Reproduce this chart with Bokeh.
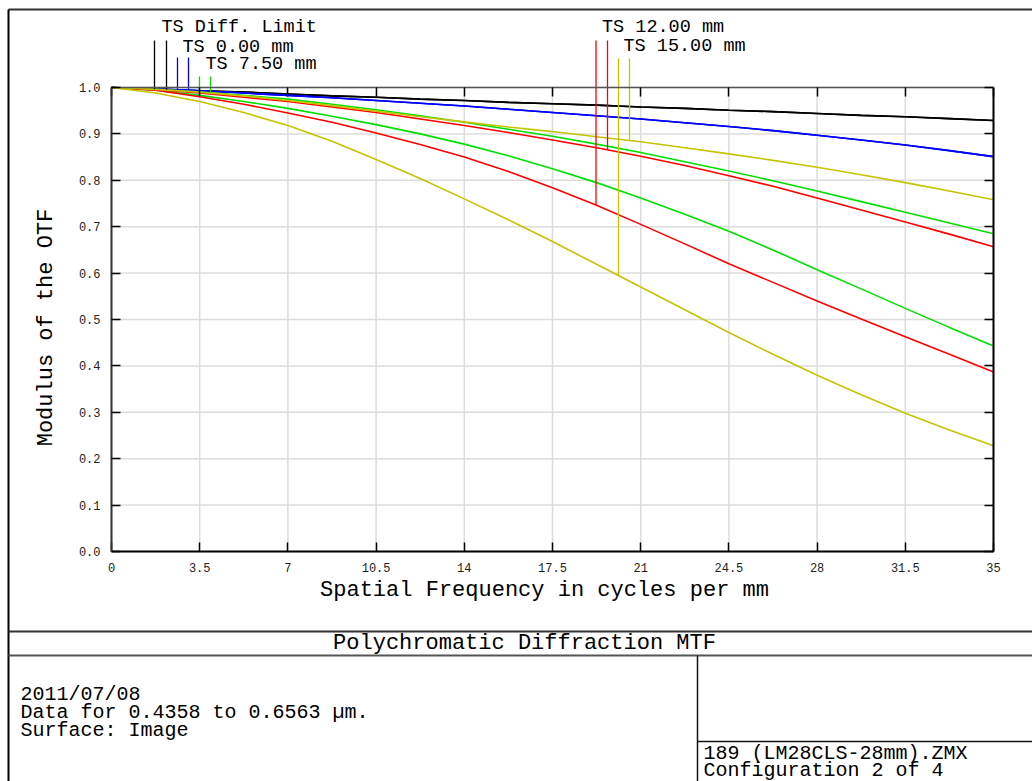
import numpy as np
from bokeh.plotting import figure
from bokeh.models import Range1d, LinearAxis, FixedTicker, Label
from bokeh.embed import file_html
from bokeh.resources import INLINE

# ---------------- data ----------------
freq = [0, 1.75, 3.5, 5.25, 7, 8.75, 10.5, 12.25, 14, 15.75, 17.5,
        19.25, 21, 22.75, 24.5, 26.25, 28, 29.75, 31.5, 33.25, 35]
diff_limit = [1.000, 0.996, 0.993, 0.990, 0.986, 0.982, 0.979, 0.975, 0.972, 0.968, 0.965,
              0.962, 0.958, 0.955, 0.951, 0.948, 0.944, 0.940, 0.937, 0.933, 0.929]
field_000_t = [1.000, 0.997, 0.993, 0.988, 0.983, 0.978, 0.972, 0.966, 0.960, 0.953, 0.946,
               0.939, 0.932, 0.924, 0.916, 0.907, 0.897, 0.887, 0.876, 0.864, 0.851]
field_000_s = [1.000, 0.997, 0.993, 0.988, 0.983, 0.978, 0.972, 0.966, 0.960, 0.953, 0.946,
               0.939, 0.932, 0.924, 0.916, 0.907, 0.897, 0.887, 0.876, 0.864, 0.851]
field_750_t = [1.000, 0.994, 0.983, 0.970, 0.955, 0.938, 0.920, 0.900, 0.878, 0.853, 0.825,
               0.795, 0.762, 0.727, 0.690, 0.650, 0.607, 0.566, 0.524, 0.483, 0.443]
field_750_s = [1.000, 0.996, 0.990, 0.983, 0.975, 0.964, 0.952, 0.939, 0.925, 0.910, 0.895,
               0.878, 0.860, 0.840, 0.820, 0.799, 0.777, 0.754, 0.731, 0.708, 0.685]
field_1200_t = [1.000, 0.994, 0.980, 0.964, 0.945, 0.925, 0.902, 0.877, 0.850, 0.819, 0.784,
                0.746, 0.705, 0.663, 0.620, 0.580, 0.540, 0.501, 0.463, 0.425, 0.387]
field_1200_s = [1.000, 0.995, 0.988, 0.979, 0.970, 0.958, 0.946, 0.932, 0.918, 0.903, 0.887,
                0.870, 0.852, 0.832, 0.810, 0.787, 0.762, 0.736, 0.710, 0.684, 0.657]
field_1500_t = [1.000, 0.988, 0.970, 0.946, 0.918, 0.884, 0.845, 0.804, 0.760, 0.715, 0.668,
                0.619, 0.570, 0.521, 0.472, 0.425, 0.380, 0.338, 0.298, 0.262, 0.228]
field_1500_s = [1.000, 0.996, 0.990, 0.982, 0.972, 0.961, 0.949, 0.937, 0.926, 0.915, 0.905,
                0.894, 0.883, 0.870, 0.857, 0.843, 0.828, 0.812, 0.795, 0.777, 0.758]

x_ticks = [0, 3.5, 7, 10.5, 14, 17.5, 21, 24.5, 28, 31.5, 35]
x_tick_labels = ["0", "3.5", "7", "10.5", "14", "17.5", "21", "24.5", "28", "31.5", "35"]
y_ticks = [0.0, 0.1, 0.2, 0.3, 0.4, 0.5, 0.6, 0.7, 0.8, 0.9, 1.0]
y_tick_labels = ["0.0", "0.1", "0.2", "0.3", "0.4", "0.5", "0.6", "0.7", "0.8", "0.9", "1.0"]

legend_labels = ["TS Diff. Limit", "TS 0.00 mm", "TS 7.50 mm", "TS 12.00 mm", "TS 15.00 mm"]
series_colors = ["#000000", "#0000ff", "#00e000", "#ff0000", "#c4c400"]
series_pairs = [(diff_limit, diff_limit), (field_000_t, field_000_s),
                (field_750_t, field_750_s), (field_1200_t, field_1200_s),
                (field_1500_t, field_1500_s)]

x_title = "Spatial Frequency in cycles per mm"
y_title = "Modulus of the OTF"
title_text = "Polychromatic Diffraction MTF"
info_left = ["2011/07/08", "Data for 0.4358 to 0.6563 \u00b5m.", "Surface: Image"]
info_right = ["189 (LM28CLS-28mm).ZMX", "Configuration 2 of 4"]

# ---------------- layout / style ----------------
FONT = "Liberation Mono"
BIG = "22px"
INFO = "20px"
W, H = 1032, 781
PLOT_L, PLOT_R, PLOT_T, PLOT_B = 111, 993, 87, 551      # pixel box of the MTF plot


def dx(px):   # canvas pixel -> data x
    return x_ticks[0] + (px - PLOT_L) * (x_ticks[-1] - x_ticks[0]) / (PLOT_R - PLOT_L)


def dy(py):   # canvas pixel -> data y
    return y_ticks[0] + (PLOT_B - py) * (y_ticks[-1] - y_ticks[0]) / (PLOT_B - PLOT_T)


# legend key layout in pixels: (x of T line, x of S line, top of lines, label x, label baseline)
legend_layout = [
    (154, 166, 40, 161, 27),
    (177, 188, 57, 182, 47),
    (199, 210, 76, 205, 64),
    (595.5, 607, 40, 601.5, 27),
    (618, 629, 58, 623, 46),
]

p = figure(width=W, height=H, min_border=0,
           x_range=Range1d(dx(0), dx(W)), y_range=Range1d(dy(H), dy(0)),
           x_axis_type=None, y_axis_type=None,
           output_backend="svg", toolbar_location=None)
p.outline_line_color = None
p.background_fill_color = "white"
p.border_fill_color = "white"

# grid lines at the tick positions
nx, ny = len(x_ticks), len(y_ticks)
p.segment(x0=x_ticks, y0=[y_ticks[0]] * nx, x1=x_ticks, y1=[y_ticks[-1]] * nx,
          line_color="#dcdcdc", line_width=1.5)
p.segment(x0=[x_ticks[0]] * ny, y0=y_ticks, x1=[x_ticks[-1]] * ny, y1=y_ticks,
          line_color="#dcdcdc", line_width=1.5)


def make_axis(ticks, labels, loc, bounds, line_color="#000000", line_width=2):
    ax = LinearAxis(fixed_location=loc, bounds=bounds, ticker=FixedTicker(ticks=ticks))
    if labels is not None:
        ax.major_label_overrides = {t: l for t, l in zip(ticks, labels)}
        ax.major_label_text_font = FONT
        ax.major_label_text_font_size = "12px"
        ax.major_label_text_color = "#222222"
        ax.major_label_standoff = 11
    else:
        ax.major_label_overrides = {t: "" for t in ticks}
        ax.major_label_text_font_size = "0px"
        ax.major_label_standoff = 0
    ax.major_tick_in = 9
    ax.major_tick_out = 0
    ax.major_tick_line_color = "#000000"
    ax.major_tick_line_width = 1.5
    ax.minor_tick_line_color = None
    ax.axis_line_color = line_color
    ax.axis_line_width = line_width
    return ax


xr = (x_ticks[0], x_ticks[-1])
yr = (y_ticks[0], y_ticks[-1])
p.add_layout(make_axis(x_ticks, x_tick_labels, y_ticks[0], xr), "below")
p.add_layout(make_axis(y_ticks, y_tick_labels, x_ticks[0], yr, "#333333"), "left")
p.add_layout(make_axis(x_ticks, None, y_ticks[-1], xr, "#555555", 1.5), "above")
p.add_layout(make_axis(y_ticks, None, x_ticks[-1], yr), "right")

# curves
for (t_vals, s_vals), col in zip(series_pairs, series_colors):
    p.line(freq, t_vals, line_color=col, line_width=1.6)
    p.line(freq, s_vals, line_color=col, line_width=1.6)

# legend keys: vertical lines from label down to each curve
for (t_vals, s_vals), col, lab, (xt_px, xs_px, top_px, lx_px, ly_px) in zip(
        series_pairs, series_colors, legend_labels, legend_layout):
    xs_, tops, bots = [], [], []
    for xk, vals in ((dx(xt_px), t_vals), (dx(xs_px), s_vals)):
        xs_.append(xk)
        tops.append(dy(top_px))
        bots.append(float(np.interp(xk, freq, vals)))
    p.segment(x0=xs_, y0=tops, x1=xs_, y1=bots, line_color=col, line_width=1.3)
    p.add_layout(Label(x=dx(lx_px), y=dy(ly_px), text=lab, text_font=FONT,
                       text_font_size="18.5px", text_color="#000000",
                       text_baseline="alphabetic", text_align="left"))

# axis titles
p.add_layout(Label(x=dx(544), y=dy(590), text=x_title, text_font=FONT, text_font_size=BIG,
                   text_color="#000000", text_align="center", text_baseline="middle"))
p.add_layout(Label(x=dx(46), y=dy(327), text=y_title, text_font=FONT, text_font_size=BIG,
                   text_color="#000000", text_align="center", text_baseline="middle",
                   angle=np.pi / 2))

# surrounding Zemax-style frame (pixel layout converted to data space)
frame_lines = [  # (x0, y0, x1, y1, color, width)
    (8, 9, W + 20, 9, "#333333", 2),
    (8, 9, 8, H + 20, "#000000", 2),
    (8, 631, W + 20, 631, "#333333", 2),
    (8, 655, W + 20, 655, "#555555", 2),
    (697, 655, 697, H + 20, "#111111", 1.5),
    (697, 741, W + 20, 741, "#111111", 1.5),
]
for x0, y0, x1, y1, c, w in frame_lines:
    p.segment(x0=[dx(x0)], y0=[dy(y0)], x1=[dx(x1)], y1=[dy(y1)], line_color=c, line_width=w)

p.add_layout(Label(x=dx(524), y=dy(643), text=title_text, text_font=FONT, text_font_size=BIG,
                   text_color="#000000", text_align="center", text_baseline="middle"))
for i, t in enumerate(info_left):
    p.add_layout(Label(x=dx(20), y=dy(694 + 18 * i), text=t, text_font=FONT,
                       text_font_size=INFO, text_color="#000000",
                       text_align="left", text_baseline="alphabetic"))
for i, t in enumerate(info_right):
    p.add_layout(Label(x=dx(703), y=dy(753 + 17 * i), text=t, text_font=FONT,
                       text_font_size=INFO, text_color="#000000",
                       text_align="left", text_baseline="alphabetic"))

open("out.html", "w").write(file_html(p, INLINE, "MTF"))
